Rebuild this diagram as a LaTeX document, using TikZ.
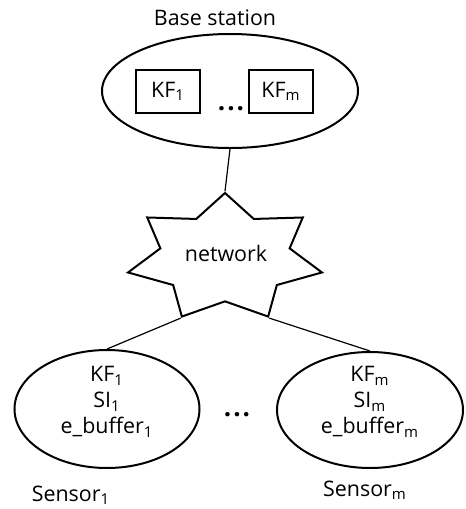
\documentclass[tikz,border=0pt]{standalone}
\usepackage{fontspec}
\setmainfont{Open Sans}
\usetikzlibrary{shapes.geometric}

\begin{document}
\begin{tikzpicture}[x=0.5pt, y=0.5pt]

% ---------------------------------------------------------------- styles
\tikzset{
  txt/.style   = {font=\fontsize{10.7}{13}\selectfont, align=center, inner sep=0pt},
  gap/.style   = {font=\fontsize{13}{13}\bfseries, inner sep=0pt, anchor=base},
  oval/.style  = {ellipse, draw, line width=1pt, inner sep=0pt},
  kfbox/.style = {txt, rectangle, draw, line width=1pt,
                  minimum width=32pt, minimum height=21.5pt},
  cloud/.style = {star, star points=7, draw, line width=1pt,
                  minimum size=65pt, inner sep=0pt, transform shape},
  link/.style  = {draw, line width=0.6pt},
}

\useasboundingbox (0,0) rectangle (466,-509);

% ================================================================ base station
\node[txt] (bslbl) at (215,-18) {Base station};
\node[oval, minimum width=128pt, minimum height=57pt] (bs) at (230,-91) {};
\node[kfbox] (kf1) at (168,-91.5) {KF\textsubscript{1}};
\node[kfbox] (kfm) at (281,-91.5) {KF\textsubscript{m}};
\node[gap] (bsdots) at (231,-110) {.\kern1pt.\kern1pt.};

% ================================================================ network
\begin{scope}[shift={(225,-258)}, xscale=1.53]
  \node[cloud] (net) at (0,0) {};
\end{scope}
\node[txt] (netlbl) at (226,-253) {network};

% ================================================================ sensors
\node[oval, minimum width=92.5pt, minimum height=59pt] (s1) at (107,-409) {};
\node[oval, minimum width=93pt, minimum height=58pt] (sm) at (370,-410) {};
\node[txt] (s1txt) at (107,-402)
  {KF\textsubscript{1}\\ SI\textsubscript{1}\\ e\_buffer\textsubscript{1}};
\node[txt] (smtxt) at (370,-402)
  {KF\textsubscript{m}\\ SI\textsubscript{m}\\ e\_buffer\textsubscript{m}};
\node[gap] (sdots) at (237,-416) {.\kern1pt.\kern1pt.};
\node[txt] (s1lbl) at (71,-495) {Sensor\textsubscript{1}};
\node[txt] (smlbl) at (365,-490) {Sensor\textsubscript{m}};

% ------------------------------------------------- links
\draw[link] (bs.south) -- (net.outer point 1);
\draw[link] (net.outer point 4) -- (s1.north);
\draw[link] (net.outer point 5) -- (sm.north);

\end{tikzpicture}
\end{document}
